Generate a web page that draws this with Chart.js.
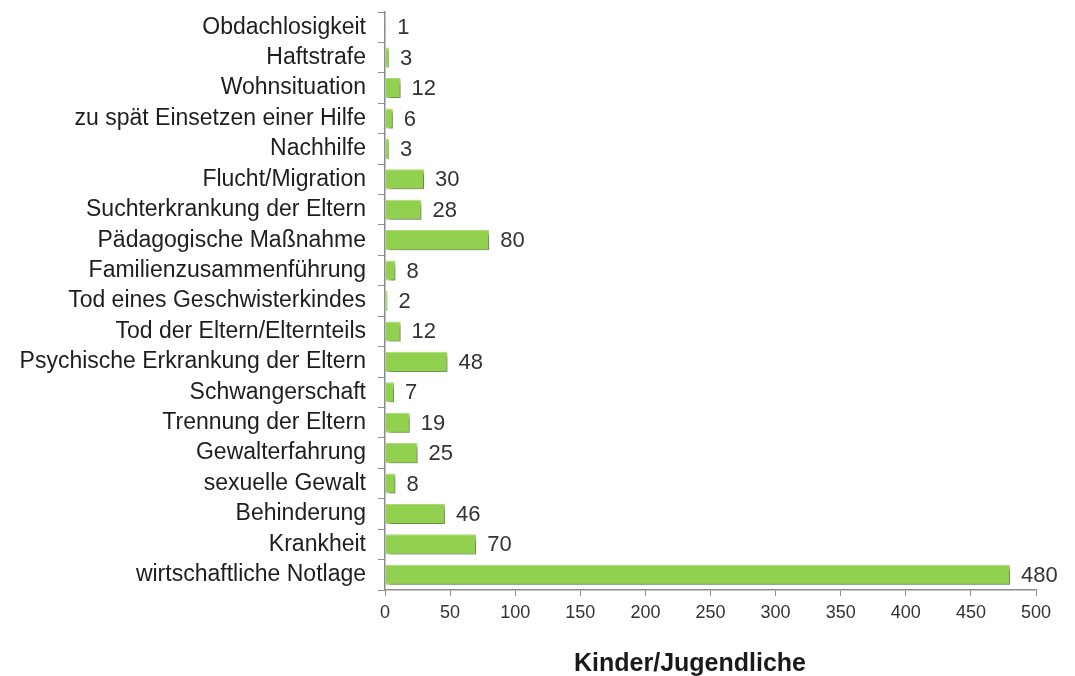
<!DOCTYPE html>
<html lang="de">
<head>
    <meta charset="UTF-8">
    <title>Kinder/Jugendliche</title>
    <script src="https://cdn.jsdelivr.net/npm/chart.js"></script>
    <style>
        body {
            margin: 0;
            background: #ffffff;
        }

        .chart-wrap {
            position: relative;
            width: 1075px;
            height: 676px;
        }
    </style>
</head>
<body>
    <div class="chart-wrap">
        <canvas id="barChart"></canvas>
    </div>

    <script>
        const categories = [
            'Obdachlosigkeit',
            'Haftstrafe',
            'Wohnsituation',
            'zu spät Einsetzen einer Hilfe',
            'Nachhilfe',
            'Flucht/Migration',
            'Suchterkrankung der Eltern',
            'Pädagogische Maßnahme',
            'Familienzusammenführung',
            'Tod eines Geschwisterkindes',
            'Tod der Eltern/Elternteils',
            'Psychische Erkrankung der Eltern',
            'Schwangerschaft',
            'Trennung der Eltern',
            'Gewalterfahrung',
            'sexuelle Gewalt',
            'Behinderung',
            'Krankheit',
            'wirtschaftliche Notlage'
        ];
        const counts = [1, 3, 12, 6, 3, 30, 28, 80, 8, 2, 12, 48, 7, 19, 25, 8, 46, 70, 480];
        const xTicks = [0, 50, 100, 150, 200, 250, 300, 350, 400, 450, 500];
        const axisTitle = 'Kinder/Jugendliche';

        const fontFamily = "'Liberation Sans', Arial, sans-serif";
        const axisGrey = '#8c8c8c';

        // grey drop shadow under the bars
        const shadowPlugin = {
            id: 'barShadow',
            beforeDatasetsDraw(chart) {
                const ctx = chart.ctx;
                ctx.save();
                ctx.shadowColor = 'rgba(0, 0, 0, 0.4)';
                ctx.shadowOffsetX = 3;
                ctx.shadowOffsetY = 3;
                ctx.shadowBlur = 3;
            },
            afterDatasetsDraw(chart) {
                chart.ctx.restore();
            }
        };

        // value labels next to the bars + axis title
        const labelPlugin = {
            id: 'valueLabels',
            afterDraw(chart) {
                const ctx = chart.ctx;
                const meta = chart.getDatasetMeta(0);
                ctx.save();
                ctx.font = '22px ' + fontFamily;
                ctx.fillStyle = '#333333';
                ctx.textAlign = 'left';
                ctx.textBaseline = 'middle';
                meta.data.forEach(function (bar, i) {
                    ctx.fillText(String(counts[i]), bar.x + 11, bar.y + 1);
                });

                ctx.font = 'bold 25px ' + fontFamily;
                ctx.fillStyle = '#1a1a1a';
                ctx.textAlign = 'center';
                ctx.fillText(axisTitle, 690, 664);
                ctx.restore();
            }
        };

        new Chart(document.getElementById('barChart'), {
            type: 'bar',
            data: {
                labels: categories,
                datasets: [{
                    data: counts,
                    backgroundColor: '#92d050',
                    borderColor: '#a8dc72',
                    borderWidth: 1,
                    categoryPercentage: 1,
                    barPercentage: 0.66
                }]
            },
            options: {
                indexAxis: 'y',
                responsive: true,
                maintainAspectRatio: false,
                animation: false,
                layout: {
                    padding: { top: 12, right: 39, left: 0, bottom: 0 }
                },
                plugins: {
                    legend: { display: false },
                    tooltip: { enabled: false }
                },
                scales: {
                    x: {
                        min: 0,
                        max: 500,
                        afterFit(scale) {
                            scale.height = 86;
                        },
                        afterBuildTicks(scale) {
                            scale.ticks = xTicks.map(v => ({ value: v }));
                        },
                        grid: {
                            drawOnChartArea: false,
                            drawTicks: true,
                            tickLength: 6,
                            color: axisGrey
                        },
                        border: { color: axisGrey, width: 1.5 },
                        ticks: {
                            color: '#333333',
                            padding: 6,
                            font: { family: fontFamily, size: 18 }
                        }
                    },
                    y: {
                        afterFit(scale) {
                            scale.width = 385;
                            scale.paddingTop = 0;
                            scale.paddingBottom = 0;
                        },
                        grid: {
                            drawOnChartArea: false,
                            drawTicks: true,
                            tickLength: 7,
                            color: axisGrey
                        },
                        border: { color: axisGrey, width: 1.5 },
                        ticks: {
                            color: '#1e1e1e',
                            padding: 12,
                            autoSkip: false,
                            font: { family: fontFamily, size: 23 }
                        }
                    }
                }
            },
            plugins: [shadowPlugin, labelPlugin]
        });
    </script>
</body>
</html>
